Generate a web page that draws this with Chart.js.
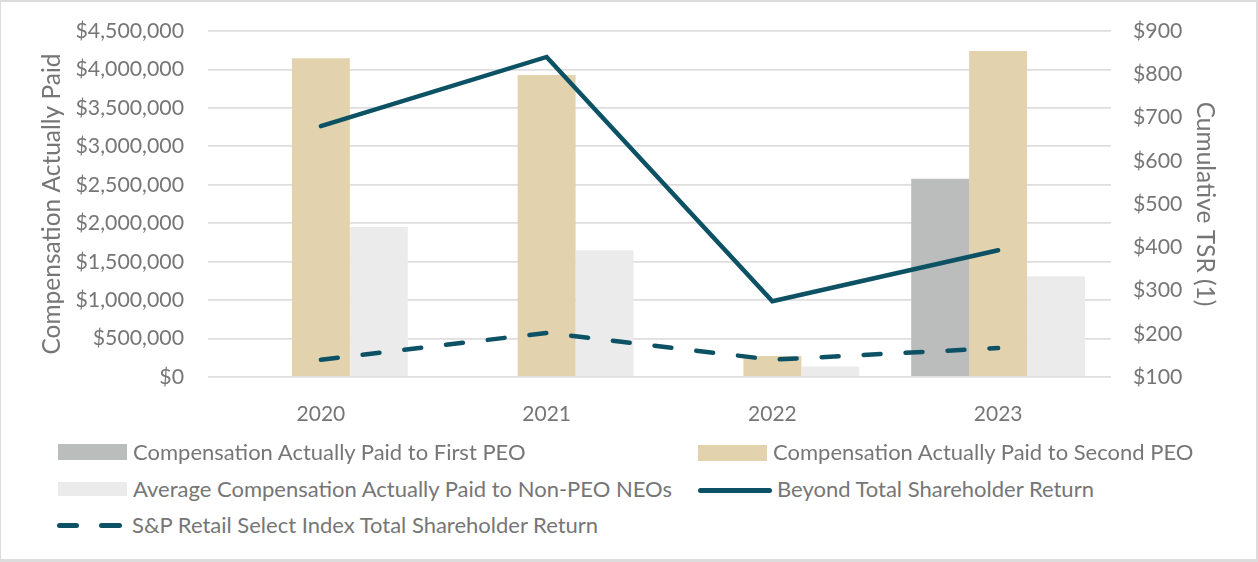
<!DOCTYPE html>
<html>
<head>
<meta charset="utf-8">
<script src="https://cdn.jsdelivr.net/npm/chart.js@4/dist/chart.umd.min.js"></script>
<style>
  html, body { margin: 0; padding: 0; background: #ffffff; }
  #frame { position: absolute; left: 0; top: 0; width: 1258px; height: 562px; box-sizing: border-box;
           border-top: 2px solid #dcdcdc; border-left: 1px solid #dcdcdc; border-right: 2px solid #dcdcdc; border-bottom: 3px solid #dcdcdc; }
  #wrap { position: absolute; left: 0; top: 0; width: 1258px; height: 440px; }
  .lg { position: absolute; font-family: Lato, "Open Sans", sans-serif; font-size: 22px; color: #767676; line-height: 24px; white-space: nowrap; }
  .sw { position: absolute; }
</style>
</head>
<body>
<div id="frame"></div>
<div id="wrap"><canvas id="c"></canvas></div>
<div id="legend"></div>
<script>
// ---- data ----
const categories = ['2020', '2021', '2022', '2023'];
const firstPEO = [null, null, null, 2580000];
const secondPEO = [4145000, 3927000, 272000, 4240000];
const nonPEO = [1952000, 1648000, 138000, 1310000];
const beyondTSR = [680, 840, 275, 393];
const spRetailTSR = [140, 202, 140, 167];
const leftTicks = [0, 500000, 1000000, 1500000, 2000000, 2500000, 3000000, 3500000, 4000000, 4500000];
const rightTicks = [100, 200, 300, 400, 500, 600, 700, 800, 900];

const seriesNames = [
  'Compensation Actually Paid to First PEO',
  'Compensation Actually Paid to Second PEO',
  'Average Compensation Actually Paid to Non-PEO NEOs',
  'Beyond Total Shareholder Return',
  'S&P Retail Select Index Total Shareholder Return'
];

const C_GRAY = '#bbbdbc', C_BEIGE = '#e2d3ae', C_LIGHT = '#ebebeb', C_TEAL = '#0c5264', C_TEXT = '#767676';
const FONT = 'Lato';

function fixFit(w, h) {
  return function (scale) {
    if (w !== null) scale.width = w;
    if (h !== null) scale.height = h;
    scale.paddingTop = 0; scale.paddingBottom = 0; scale.paddingLeft = 0; scale.paddingRight = 0;
  };
}

new Chart(document.getElementById('c'), {
  data: {
    labels: categories,
    datasets: [
      { type: 'bar', label: seriesNames[0], data: firstPEO, backgroundColor: C_GRAY, yAxisID: 'y', order: 2 },
      { type: 'bar', label: seriesNames[1], data: secondPEO, backgroundColor: C_BEIGE, yAxisID: 'y', order: 2 },
      { type: 'bar', label: seriesNames[2], data: nonPEO, backgroundColor: C_LIGHT, yAxisID: 'y', order: 2 },
      { type: 'line', label: seriesNames[3], data: beyondTSR, borderColor: C_TEAL, borderWidth: 4.5, pointRadius: 0,
        borderCapStyle: 'round', borderJoinStyle: 'miter', yAxisID: 'y1', order: 0, tension: 0 },
      { type: 'line', label: seriesNames[4], data: spRetailTSR, borderColor: C_TEAL, borderWidth: 4.5, pointRadius: 0,
        borderCapStyle: 'round', borderDash: [17, 25], yAxisID: 'y1', order: 0, tension: 0 }
    ]
  },
  options: {
    responsive: true,
    maintainAspectRatio: false,
    animation: false,
    layout: { padding: { top: 31, left: 0, right: 0, bottom: 0 } },
    datasets: { bar: { categoryPercentage: 0.77, barPercentage: 1.0 } },
    plugins: { legend: { display: false }, tooltip: { enabled: false } },
    scales: {
      x: {
        offset: true,
        grid: { display: false },
        border: { display: false },
        ticks: { color: C_TEXT, font: { family: FONT, size: 21 }, padding: 17 },
        afterFit: fixFit(null, 63)
      },
      y: {
        position: 'left',
        min: 0, max: 4500000,
        afterBuildTicks: (s) => { s.ticks = leftTicks.map(v => ({ value: v })); },
        grid: { color: '#dedede', lineWidth: 1.8, drawTicks: false },
        border: { display: false },
        ticks: { color: C_TEXT, font: { family: FONT, size: 21.3 }, padding: 24,
                 callback: (v) => '$' + Number(v).toLocaleString('en-US') },
        title: { display: true, text: 'Compensation Actually Paid', color: C_TEXT,
                 font: { family: FONT, size: 24.5 }, padding: { top: 37, bottom: 0 } },
        afterFit: fixFit(208, null)
      },
      y1: {
        position: 'right',
        min: 100, max: 900,
        afterBuildTicks: (s) => { s.ticks = rightTicks.map(v => ({ value: v })); },
        grid: { display: false, drawTicks: false },
        border: { display: false },
        ticks: { color: C_TEXT, font: { family: FONT, size: 21.3 }, padding: 22,
                 callback: (v) => '$' + v },
        title: { display: true, text: 'Cumulative TSR (1)', color: C_TEXT,
                 font: { family: FONT, size: 24.5 }, padding: { top: 38, bottom: 0 } },
        afterFit: fixFit(147, null)
      }
    }
  }
});

// ---- custom legend (two columns, like the reference) ----
const lg = document.getElementById('legend');
function addText(txt, x, cy) {
  const d = document.createElement('div');
  d.className = 'lg'; d.textContent = txt;
  d.style.left = x + 'px'; d.style.top = (cy - 12) + 'px';
  lg.appendChild(d);
}
function addBox(x, y, w, h, color, radius) {
  const d = document.createElement('div');
  d.className = 'sw';
  d.style.left = x + 'px'; d.style.top = y + 'px'; d.style.width = w + 'px'; d.style.height = h + 'px';
  d.style.background = color; if (radius) d.style.borderRadius = radius + 'px';
  lg.appendChild(d);
}
addBox(58, 444, 69, 16, C_GRAY);
addText(seriesNames[0], 133, 452);
addBox(698, 445, 69, 16, C_BEIGE);
addText(seriesNames[1], 773, 452);
addBox(58, 482, 69, 14, C_LIGHT);
addText(seriesNames[2], 133, 489);
addBox(698, 488, 74, 5, C_TEAL, 3);
addText(seriesNames[3], 777, 489);
addBox(57, 523, 22, 5, C_TEAL, 3);
addBox(99, 523, 23, 5, C_TEAL, 3);
addText(seriesNames[4], 132, 525);
</script>
</body>
</html>
